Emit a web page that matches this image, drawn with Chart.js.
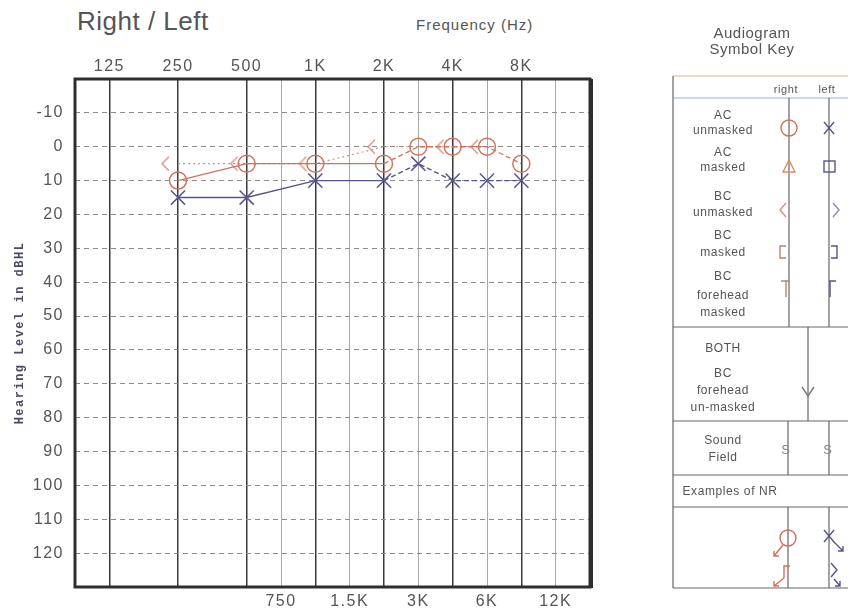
<!DOCTYPE html>
<html><head><meta charset="utf-8">
<script src="https://cdn.jsdelivr.net/npm/chart.js@4.4.1/dist/chart.umd.min.js"></script>
<style>
html,body{margin:0;padding:0;background:#fff;width:848px;height:614px;overflow:hidden;font-family:"Liberation Sans",Arial,sans-serif;}
#wrap{position:absolute;left:0;top:0;width:610px;height:614px;}
.t{position:absolute;color:#555;white-space:nowrap;}
#key{position:absolute;left:600px;top:0;}
</style></head><body>
<div class="t" style="left:77px;top:6px;font-size:26px;letter-spacing:0.5px;">Right / Left</div>
<div class="t" style="left:416px;top:16px;font-size:15px;letter-spacing:1px;">Frequency (Hz)</div>
<div id="wrap"><canvas id="c" width="610" height="614"></canvas></div>
<svg id="key" width="248" height="614" xmlns="http://www.w3.org/2000/svg" font-family="Liberation Sans, Arial, sans-serif" font-size="12" fill="#555" letter-spacing="0.6">
  <text x="152" y="38" font-size="15" text-anchor="middle" letter-spacing="0.5">Audiogram</text>
  <text x="152" y="54" font-size="15" text-anchor="middle" letter-spacing="0.5">Symbol Key</text>
  <g stroke="#666" stroke-width="1.2" fill="none">
    <line x1="73" y1="76" x2="248" y2="76" stroke="#e2b47a"/>
    <line x1="73" y1="98" x2="248" y2="98" stroke="#8fb2d2"/>
    <line x1="73" y1="76" x2="73" y2="588"/>
    <line x1="189" y1="98" x2="189" y2="327"/>
    <line x1="229" y1="98" x2="229" y2="327"/>
    <line x1="73" y1="327" x2="248" y2="327"/>
    <line x1="208" y1="327" x2="208" y2="421"/>
    <line x1="73" y1="421" x2="248" y2="421"/>
    <line x1="188" y1="421" x2="188" y2="475"/>
    <line x1="229" y1="421" x2="229" y2="475"/>
    <line x1="73" y1="475" x2="248" y2="475"/>
    <line x1="73" y1="507" x2="248" y2="507"/>
    <line x1="188" y1="507" x2="188" y2="588"/>
    <line x1="229" y1="507" x2="229" y2="588"/>
    <line x1="73" y1="588" x2="248" y2="588"/>
  </g>
  <text x="186" y="93" font-size="11" text-anchor="middle">right</text>
  <text x="227" y="93" font-size="11" text-anchor="middle">left</text>
  <g text-anchor="middle">
    <text x="123" y="119">AC</text><text x="123" y="134">unmasked</text>
    <text x="123" y="156">AC</text><text x="123" y="171">masked</text>
    <text x="123" y="200">BC</text><text x="123" y="216">unmasked</text>
    <text x="123" y="239">BC</text><text x="123" y="256">masked</text>
    <text x="123" y="280">BC</text><text x="123" y="299">forehead</text><text x="123" y="316">masked</text>
    <text x="123" y="352">BOTH</text>
    <text x="123" y="377">BC</text><text x="123" y="394">forehead</text><text x="123" y="411">un-masked</text>
    <text x="123" y="444">Sound</text><text x="123" y="461">Field</text>
    <text x="130" y="495">Examples of NR</text>
  </g>
  <g fill="none" stroke-width="1.4">
    <circle cx="189" cy="128" r="8" stroke="#d2705a"/>
    <path d="M224 122 L234 134 M234 122 L224 134" stroke="#55558e"/>
    <path d="M189 160 L183 172 L195 172 Z" stroke="#e08a60"/>
    <rect x="224" y="161" width="11" height="11" stroke="#55558e"/>
    <path d="M186 203 L180 210 L186 217" stroke="#d89080"/>
    <path d="M233 203 L239 210 L233 217" stroke="#8a8ab8"/>
    <path d="M186 246 L180 246 L180 258 L186 258" stroke="#c08070"/>
    <path d="M231 246 L237 246 L237 258 L231 258" stroke="#55558e"/>
    <path d="M181 281 L189 281 M186 281 L186 297" stroke="#c08070"/>
    <path d="M229 281 L236 281 M230 281 L230 297" stroke="#55558e"/>
    <path d="M202 387 L208 396 L214 387" stroke="#777"/>
    <circle cx="188" cy="538" r="8" stroke="#d2705a"/>
    <path d="M183 545 L174 556 M174 551 L174 556 L179 556" stroke="#d2705a"/>
    <path d="M190 566 L184 566 L184 578 M184 578 L174 586 M174 581 L174 586 L179 586" stroke="#d2705a"/>
    <path d="M224 530 L234 542 M234 530 L224 542 M234 542 L243 551 M238 551 L243 551 L243 546" stroke="#55558e"/>
    <path d="M231 563 L237 570 L231 577 M234 579 L240 586 M235 586 L240 586 L240 581" stroke="#55558e"/>
  </g>
  <text x="186" y="454" font-size="13" fill="#888" text-anchor="middle">S</text>
  <text x="228" y="454" font-size="13" fill="#888" text-anchor="middle">S</text>
</svg>
<script>
// ---- data ----
const freqLabelsTop = ['125', '250', '500', '1K', '2K', '4K', '8K'];
const freqLabelsBottom = ['750', '1.5K', '3K', '6K', '12K'];
const dbTicks = [-10, 0, 10, 20, 30, 40, 50, 60, 70, 80, 90, 100, 110, 120];
const testFreqs = ['250', '500', '1K', '2K', '3K', '4K', '6K', '8K'];
const rightAC = [10, 5, 5, 5, 0, 0, 0, 5];
const leftAC = [15, 15, 10, 10, 5, 10, 10, 10];
const rightBCFreqs = ['250', '500', '1K', '2K', '4K', '6K'];
const rightBC = [5, 5, 5, 0, 0, 0];

// position on the audiogram's octave axis (half-octave stops sit midway)
const pos = l => {
  const i = freqLabelsTop.indexOf(l);
  return i >= 0 ? i : freqLabelsBottom.indexOf(l) + 2.5;
};
const isHalf = v => Math.abs(v % 1) > 0.01;
const topPositions = freqLabelsTop.map(pos);
const bottomPositions = freqLabelsBottom.map(pos);
const allPositions = topPositions.concat(bottomPositions);

const RED = '#d2705a', RED_BC = '#d89080', BLUE = '#55558e';

// "<" glyph for unmasked bone conduction (drawn left of the frequency line)
function makeBC() {
  const c = document.createElement('canvas');
  c.width = 40; c.height = 18;
  const g = c.getContext('2d');
  g.strokeStyle = RED_BC; g.lineWidth = 1.4;
  g.beginPath(); g.moveTo(11, 2); g.lineTo(4, 9); g.lineTo(11, 16); g.stroke();
  return c;
}

const segDash = ctx => (isHalf(ctx.p0.parsed.x) || isHalf(ctx.p1.parsed.x)) ? [5, 3] : undefined;

const framePlugin = {
  id: 'frame',
  beforeDraw(chart) { chart.ctx.letterSpacing = '1.5px'; },
  beforeDatasetsDraw(chart) {
    const { ctx, chartArea: a } = chart;
    ctx.save();
    ctx.strokeStyle = '#2e2e2e';
    ctx.lineWidth = 3;
    ctx.strokeRect(a.left, a.top, a.right - a.left, a.bottom - a.top);
    ctx.lineWidth = 2;
    ctx.beginPath(); ctx.moveTo(a.right + 2, a.top); ctx.lineTo(a.right + 2, a.bottom + 1); ctx.stroke();
    ctx.restore();
  }
};

new Chart(document.getElementById('c'), {
  type: 'line',
  data: {
    datasets: [
      {
        label: 'Right AC',
        data: testFreqs.map((f, i) => ({ x: pos(f), y: rightAC[i] })),
        borderColor: RED, backgroundColor: 'rgba(0,0,0,0)',
        borderWidth: 1.3, pointStyle: 'circle', pointRadius: 8.5, pointBorderWidth: 1.5,
        pointBorderColor: RED, segment: { borderDash: segDash }
      },
      {
        label: 'Right BC',
        data: rightBCFreqs.map((f, i) => ({ x: pos(f), y: rightBC[i] })),
        borderColor: RED_BC, backgroundColor: 'rgba(0,0,0,0)',
        borderWidth: 1.2, borderDash: [2, 3], pointStyle: makeBC(), pointRadius: 9
      },
      {
        label: 'Left AC',
        data: testFreqs.map((f, i) => ({ x: pos(f), y: leftAC[i] })),
        borderColor: BLUE, backgroundColor: 'rgba(0,0,0,0)',
        borderWidth: 1.4, pointStyle: 'crossRot', pointRadius: 10, pointBorderWidth: 1.5,
        pointBorderColor: BLUE, segment: { borderDash: segDash }
      }
    ]
  },
  options: {
    responsive: false, animation: false, devicePixelRatio: 1,
    layout: { padding: { left: 0, right: 20, top: 0, bottom: 0 } },
    plugins: { legend: { display: false }, tooltip: { enabled: false } },
    scales: {
      x: {
        type: 'linear', position: 'bottom', min: -0.5, max: 7,
        afterBuildTicks: s => { s.ticks = allPositions.map(v => ({ value: v })); },
        afterFit: s => { s.height = 27; },
        ticks: {
          autoSkip: false, maxRotation: 0, padding: 5, color: '#555',
          font: { family: 'Liberation Sans', size: 16 },
          callback: v => { const i = bottomPositions.indexOf(v); return i >= 0 ? freqLabelsBottom[i] : ''; }
        },
        grid: {
          drawTicks: false,
          color: c => isHalf(c.tick.value) ? '#a8a8a8' : '#3a3a3a',
          lineWidth: c => isHalf(c.tick.value) ? 1 : 1.5
        },
        border: { display: false }
      },
      x2: {
        type: 'linear', position: 'top', min: -0.5, max: 7,
        afterBuildTicks: s => { s.ticks = topPositions.map(v => ({ value: v })); },
        afterFit: s => { s.height = 79; },
        ticks: {
          autoSkip: false, maxRotation: 0, padding: 3, color: '#555',
          font: { family: 'Liberation Sans', size: 16 },
          callback: v => freqLabelsTop[topPositions.indexOf(v)]
        },
        grid: { display: false, drawTicks: false },
        border: { display: false }
      },
      y: {
        type: 'linear', min: -20, max: 130, reverse: true,
        afterBuildTicks: s => { s.ticks = dbTicks.map(v => ({ value: v })); },
        afterFit: s => { s.width = 75; },
        ticks: { padding: 11, color: '#555', font: { family: 'Liberation Sans', size: 16 } },
        grid: { drawTicks: false, color: '#8c8c8c', lineWidth: 1 },
        border: { display: false, dash: [5, 4] },
        title: {
          display: true, text: 'Hearing Level in dBHL', color: '#4a4a66',
          font: { family: 'Liberation Mono', size: 12, weight: 'bold' },
          padding: { top: 13, bottom: 0 }
        }
      }
    }
  },
  plugins: [framePlugin]
});
</script>
</body></html>
